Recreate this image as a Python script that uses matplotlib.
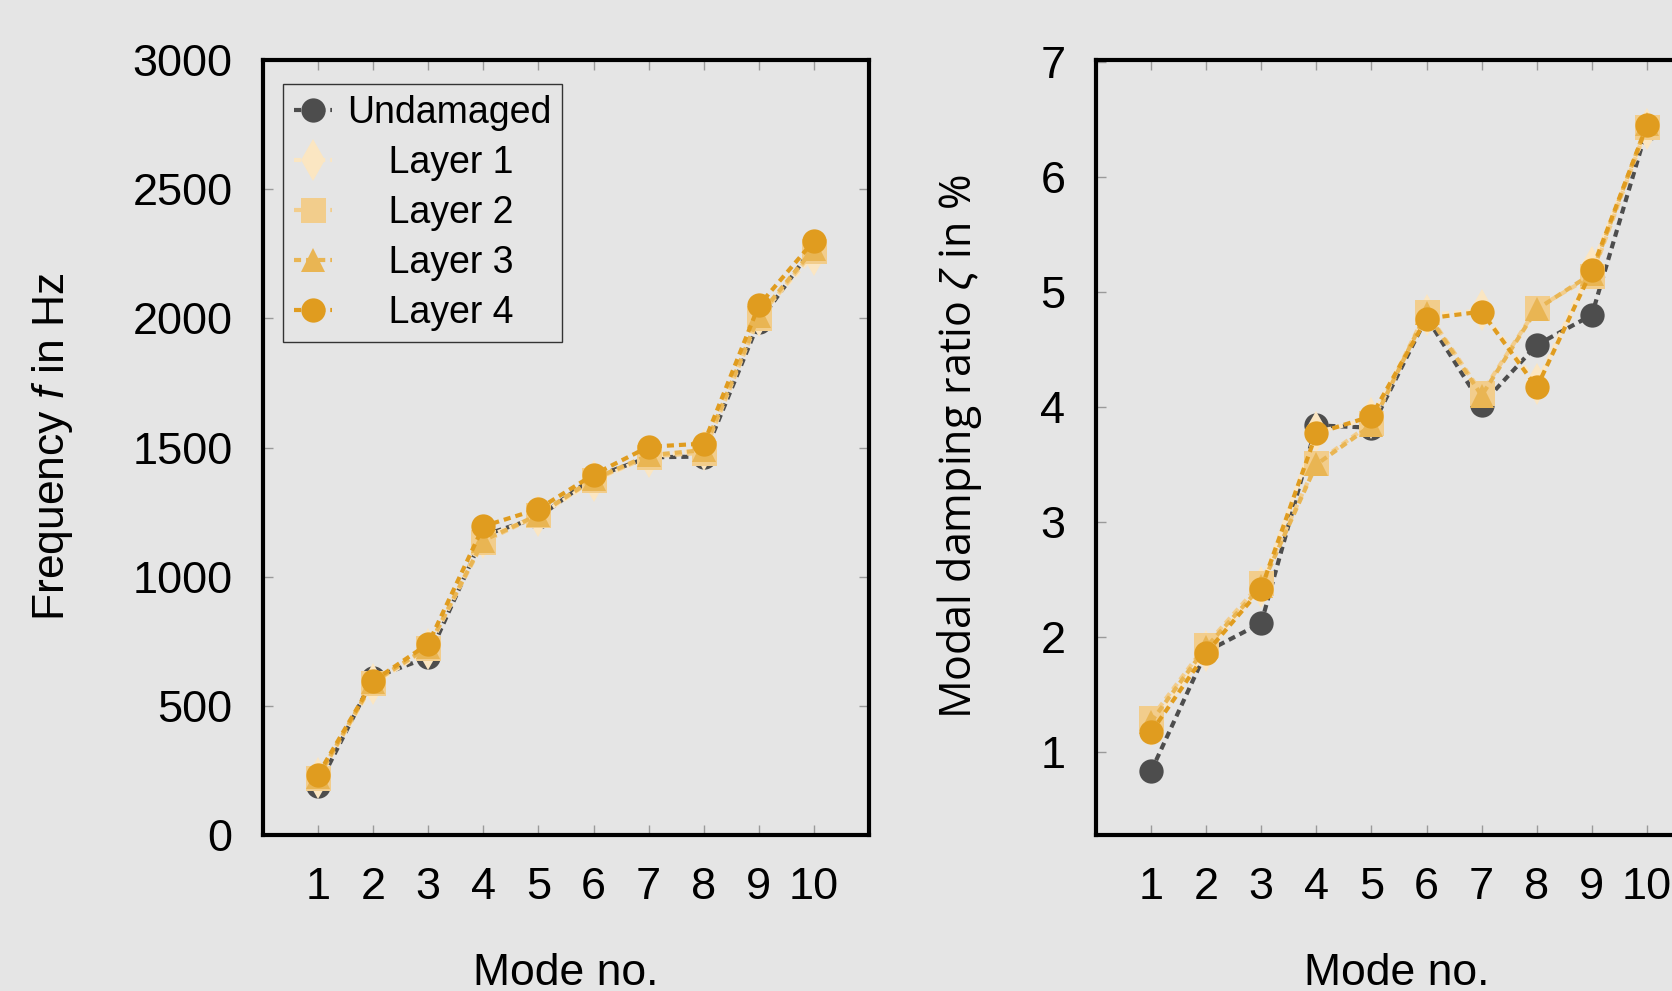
import numpy as np
import matplotlib
matplotlib.use("Agg")
import matplotlib.pyplot as plt

plt.rcParams["font.family"] = ["Liberation Sans", "DejaVu Sans"]
plt.rcParams["mathtext.fontset"] = "custom"
plt.rcParams["mathtext.rm"] = "Liberation Sans"
plt.rcParams["mathtext.it"] = "Liberation Sans:italic"

modes = np.arange(1, 11)
labels = ["Undamaged", "Layer 1", "Layer 2", "Layer 3", "Layer 4"]

# natural frequencies in Hz
freq_undamaged = [188, 608, 688, 1160, 1230, 1385, 1462, 1465, 1985, 2280]
freq_layer1 = [220, 585, 720, 1150, 1235, 1370, 1465, 1490, 2010, 2245]
freq_layer2 = [222, 590, 725, 1135, 1238, 1375, 1465, 1480, 2003, 2262]
freq_layer3 = [225, 592, 728, 1140, 1240, 1378, 1470, 1490, 2010, 2270]
freq_layer4 = [234, 596, 740, 1195, 1262, 1395, 1503, 1515, 2050, 2300]

# modal damping ratios in %
damp_undamaged = [0.83, 1.87, 2.12, 3.84, 3.82, 4.78, 4.02, 4.54, 4.80, 6.42]
damp_layer1 = [1.22, 1.88, 2.43, 3.78, 3.90, 4.80, 4.84, 4.20, 5.22, 6.42]
damp_layer2 = [1.29, 1.93, 2.47, 3.51, 3.86, 4.83, 4.12, 4.86, 5.14, 6.44]
damp_layer3 = [1.26, 1.91, 2.44, 3.50, 3.84, 4.82, 4.10, 4.85, 5.16, 6.46]
damp_layer4 = [1.17, 1.86, 2.42, 3.77, 3.92, 4.77, 4.83, 4.17, 5.19, 6.45]

colors = ["#4d4d4d", "#fbe6c2", "#f2cd8c", "#e9b553", "#e09c1f"]
markers = ["o", "d", "s", "^", "o"]
msizes = [17.5, 21, 18, 17.5, 17.5]

bg = "#e5e5e5"
W, H = 1672, 991
fig = plt.figure(figsize=(W / 100, H / 100), dpi=100, facecolor=bg)

ax_l, ax_b, ax_w, ax_h = 263, 835, 606, 775
ax1 = fig.add_axes([ax_l / W, 1 - ax_b / H, ax_w / W, ax_h / H])
ax2 = fig.add_axes([1096 / W, 1 - ax_b / H, ax_w / W, ax_h / H])


def draw(ax, series):
    for vals, c, m, ms, lab in zip(series, colors, markers, msizes, labels):
        ax.plot(modes, vals, color=c, marker=m, markersize=ms, lw=3,
                dashes=(1.7, 1.2), label=lab, markeredgewidth=0)
    ax.set_facecolor(bg)
    ax.set_xlim(0, 11)
    ax.set_xticks(modes)
    for s in ax.spines.values():
        s.set_linewidth(3)
        s.set_color("black")
    ax.tick_params(direction="in", length=7, width=1, color="#9a9a9a",
                   top=True, right=True, labelsize=32.5)
    ax.tick_params(axis="x", pad=23)
    ax.tick_params(axis="y", pad=22)


draw(ax1, [freq_undamaged, freq_layer1, freq_layer2, freq_layer3, freq_layer4])
ax1.set_ylim(0, 3000)
ax1.set_yticks([0, 500, 1000, 1500, 2000, 2500, 3000])

draw(ax2, [damp_undamaged, damp_layer1, damp_layer2, damp_layer3, damp_layer4])
ax2.set_ylim(0.275, 7.02)
ax2.set_yticks([1, 2, 3, 4, 5, 6, 7])

leg = ax1.legend(loc="upper left", bbox_to_anchor=(20 / ax_w, 1 - 24 / ax_h),
                 borderaxespad=0, fontsize=27, handlelength=1.0,
                 handletextpad=0.4, labelspacing=0.37, borderpad=0.3,
                 fancybox=False, framealpha=1, facecolor=bg, edgecolor="#333333")
leg.get_frame().set_linewidth(1)
for t in leg.get_texts()[1:]:
    t.set_text("    " + t.get_text())

fig.text(53 / W, 1 - 447 / H, "Frequency $f$ in Hz", rotation=90,
         ha="center", va="center", fontsize=32)
fig.text(960 / W, 1 - 447 / H, r"Modal damping ratio $\zeta$ in %", rotation=90,
         ha="center", va="center", fontsize=31, family=["Open Sans", "DejaVu Sans"])
fig.text(566 / W, 6 / H, "Mode no.", ha="center", va="baseline", fontsize=32)
fig.text(1397 / W, 6 / H, "Mode no.", ha="center", va="baseline", fontsize=32)

fig.savefig("out.png", dpi=100, facecolor=bg)
